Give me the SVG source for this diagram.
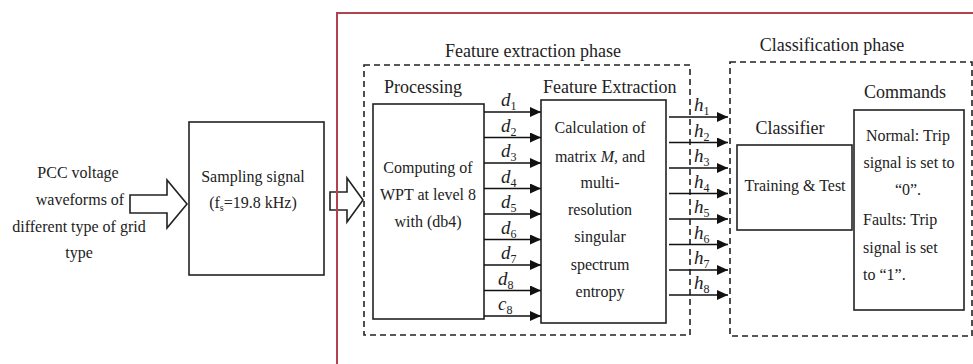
<svg xmlns="http://www.w3.org/2000/svg" width="973" height="364" viewBox="0 0 973 364">
<defs>
<style>
text{font-family:"Liberation Serif","Times New Roman",serif;fill:#222}
.b{font-size:16px}
.h{font-size:18px}
.c{text-anchor:middle}
.m{font-size:19px;font-style:italic}
.s{font-size:12px;font-style:normal}
.box{fill:#fff;stroke:#222;stroke-width:1.6}
.dash{fill:none;stroke:#222;stroke-width:1.6;stroke-dasharray:6 4}
.blk{fill:#fff;stroke:#222;stroke-width:1.6;stroke-linejoin:miter}
.ln{stroke:#111;stroke-width:1.6;fill:none}
</style>
<marker id="ah" markerUnits="userSpaceOnUse" markerWidth="12" markerHeight="10" refX="11" refY="5" orient="auto">
<path d="M0,0 L11,5 L0,10 z" fill="#111"/>
</marker>
</defs>
<rect width="973" height="364" fill="#fff"/>

<g id="input">
<text class="b c" x="78" y="178">PCC voltage</text>
<text class="b c" x="80" y="205">waveforms of</text>
<text class="b c" x="79" y="232">different type of grid</text>
<text class="b c" x="79" y="258">type</text>
</g>

<g id="sampling">
<rect class="box" x="189" y="122" width="135" height="153"/>
<text class="b c" x="253" y="182">Sampling signal</text>
<text class="b c" x="253" y="208">(f<tspan font-size="10" dy="3">s</tspan><tspan dy="-3">=19.8 kHz)</tspan></text>
</g>

<g id="feature-phase">
<rect class="dash" x="364" y="65" width="326" height="270"/>
<text class="h c" x="533" y="57">Feature extraction phase</text>
</g>

<g id="processing">
<text class="h" x="384" y="93">Processing</text>
<rect class="box" x="373" y="104" width="111" height="215"/>
<text class="b c" x="428" y="173">Computing of</text>
<text class="b c" x="428" y="200">WPT at level 8</text>
<text class="b c" x="428" y="227">with (db4)</text>
</g>

<g id="feature-extraction">
<text class="h" x="543" y="93">Feature Extraction</text>
<rect class="box" x="541" y="100" width="125" height="223"/>
<text class="b c" x="600" y="133">Calculation of</text>
<text class="b c" x="600" y="162">matrix <tspan font-style="italic">M</tspan>, and</text>
<text class="b c" x="600" y="188">multi-</text>
<text class="b c" x="600" y="215">resolution</text>
<text class="b c" x="600" y="242">singular</text>
<text class="b c" x="600" y="270">spectrum</text>
<text class="b c" x="600" y="297">entropy</text>
</g>

<g id="classification-phase">
<rect class="dash" x="730" y="62" width="242" height="274"/>
<text class="h c" x="832" y="51">Classification phase</text>
</g>

<g id="classifier">
<text class="h c" x="790" y="134">Classifier</text>
<rect class="box" x="737" y="145" width="115" height="85"/>
<text class="b c" x="795" y="191">Training &amp; Test</text>
</g>

<g id="commands">
<text class="h c" x="905" y="98">Commands</text>
<rect class="box" x="854" y="110" width="110" height="200"/>
<text class="b c" x="908" y="141">Normal: Trip</text>
<text class="b c" x="909" y="168">signal is set to</text>
<text class="b c" x="908" y="195">“0”.</text>
<text class="b" x="863" y="225">Faults: Trip</text>
<text class="b" x="863" y="253">signal is set</text>
<text class="b" x="863" y="280">to “1”.</text>
</g>

<g id="connectors">
<polygon class="blk" points="130,195 167,195 167,180 187,204 167,228 167,213 130,213"/>
<polygon class="blk" points="330,192 347,192 347,178 363,200 347,222 347,210 330,210"/>
<g class="ln" marker-end="url(#ah)">
<line x1="484" y1="112" x2="541" y2="112"/>
<line x1="484" y1="137.5" x2="541" y2="137.5"/>
<line x1="484" y1="163" x2="541" y2="163"/>
<line x1="484" y1="188.5" x2="541" y2="188.5"/>
<line x1="484" y1="214" x2="541" y2="214"/>
<line x1="484" y1="239.5" x2="541" y2="239.5"/>
<line x1="484" y1="265" x2="541" y2="265"/>
<line x1="484" y1="290.5" x2="541" y2="290.5"/>
<line x1="484" y1="316" x2="541" y2="316"/>
<line x1="669" y1="117" x2="728" y2="117"/>
<line x1="669" y1="142.5" x2="728" y2="142.5"/>
<line x1="669" y1="168" x2="728" y2="168"/>
<line x1="669" y1="193.5" x2="728" y2="193.5"/>
<line x1="669" y1="219" x2="728" y2="219"/>
<line x1="669" y1="244.5" x2="728" y2="244.5"/>
<line x1="669" y1="270" x2="728" y2="270"/>
<line x1="669" y1="295" x2="728" y2="295"/>
</g>
<text class="m" x="501" y="106">d<tspan class="s" dy="4">1</tspan></text>
<text class="m" x="501" y="131.5">d<tspan class="s" dy="4">2</tspan></text>
<text class="m" x="501" y="157">d<tspan class="s" dy="4">3</tspan></text>
<text class="m" x="501" y="182.5">d<tspan class="s" dy="4">4</tspan></text>
<text class="m" x="501" y="208">d<tspan class="s" dy="4">5</tspan></text>
<text class="m" x="501" y="233.5">d<tspan class="s" dy="4">6</tspan></text>
<text class="m" x="501" y="259">d<tspan class="s" dy="4">7</tspan></text>
<text class="m" x="498" y="284.5">d<tspan class="s" dy="4">8</tspan></text>
<text class="m" x="498" y="310">c<tspan class="s" dy="4">8</tspan></text>
<text class="m" x="694" y="111">h<tspan class="s" dy="4">1</tspan></text>
<text class="m" x="694" y="136.5">h<tspan class="s" dy="4">2</tspan></text>
<text class="m" x="694" y="162">h<tspan class="s" dy="4">3</tspan></text>
<text class="m" x="694" y="187.5">h<tspan class="s" dy="4">4</tspan></text>
<text class="m" x="694" y="213">h<tspan class="s" dy="4">5</tspan></text>
<text class="m" x="694" y="238.5">h<tspan class="s" dy="4">6</tspan></text>
<text class="m" x="694" y="264">h<tspan class="s" dy="4">7</tspan></text>
<text class="m" x="694" y="289">h<tspan class="s" dy="4">8</tspan></text>
</g>

<g id="frame">
<path d="M337,364 V13 H973" fill="none" stroke="#b3424f" stroke-width="2"/>
</g>
</svg>
